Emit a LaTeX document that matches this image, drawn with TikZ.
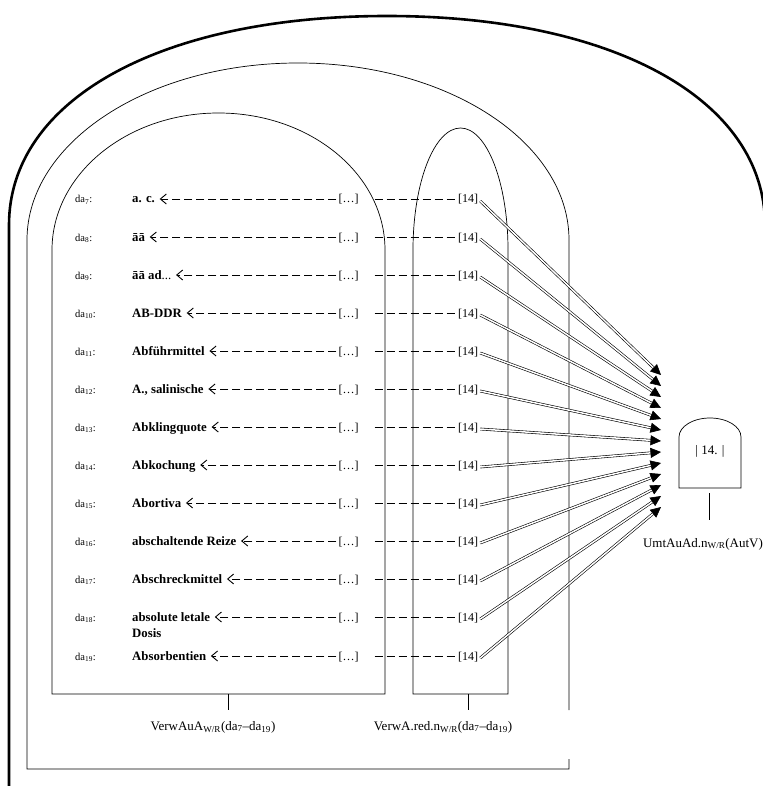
\documentclass[tikz,border=0pt]{standalone}
\usepackage{fontspec}
\setmainfont{Liberation Serif}
\usetikzlibrary{arrows.meta}
\begin{document}
\begin{tikzpicture}[x=1pt,y=-1pt,
  frame/.style={line width=0.7pt},
  rowtxt/.style={anchor=west, inner sep=2pt, text height=9pt, text depth=1pt},
  dalab/.style={rowtxt, font=\fontsize{10.5}{12}\selectfont},
  word/.style={rowtxt, font=\fontsize{12.8}{15}\selectfont\bfseries},
  ref/.style={rowtxt, anchor=center, font=\fontsize{12}{14}\selectfont},
  dashline/.style={line width=0.9pt, dash pattern=on 8pt off 4pt},
  back/.style={dashline, shorten >=2.5pt, -{Straight Barb[length=6pt,width=10pt]}},
  dbl/.style={double, double distance=1.5pt, line width=0.6pt, -{Triangle[length=10.5pt,width=10pt]}},
  lab/.style={font=\fontsize{13}{15}\selectfont, inner sep=0pt}
]
\useasboundingbox (0,0) rectangle (762,786);
% outer thick frame
\draw[line width=2.6pt] (9,800) -- (9,225) .. controls (9,100) and (160,16) .. (387,16) .. controls (614,16) and (765,100) .. (765,225) -- (765,800);
% middle frame
\draw[frame] (569,710) -- (569,240) arc[start angle=0, end angle=180, x radius=271pt, y radius=177pt] -- (27,769) -- (569,769) -- (569,759);
% inner box
\draw[frame] (52,250) arc[start angle=180, end angle=0, x radius=166.5pt, y radius=137pt] -- (385,694) -- (52,694) -- cycle;
% narrow box
\draw[frame] (413,250) arc[start angle=180, end angle=0, x radius=47.5pt, y radius=122pt] -- (508,694) -- (413,694) -- cycle;
% 14 box
\draw[frame] (679,437) arc[start angle=180, end angle=0, x radius=31pt, y radius=19pt] -- (741,488) -- (679,488) -- cycle;
\node[font=\fontsize{13}{15}\selectfont] (box14) at (710,451) {| 14. |};

% rows
\foreach \k/\w/\y in {7/{a. c.}/199, 8/{āā}/237, 9/{āā ad\textmd{...}}/275, 10/{AB-DDR}/313,
  11/{Abführmittel}/351, 12/{A., salinische}/389, 13/{Abklingquote}/427, 14/{Abkochung}/465,
  15/{Abortiva}/503, 16/{abschaltende Reize}/541, 17/{Abschreckmittel}/579,
  18/{absolute letale}/617, 19/{Absorbentien}/656}{
  \node[dalab] (da\k) at (73,\y) {da\textsubscript{\k}:};
  \node[word] (w\k) at (130,\y) {\w};
  \node[ref] (d\k) at (348.5,\y) {[…]};
  \node[ref] (r\k) at (468,\y) {[14]};
  \draw[back] (d\k.west) -- (w\k.east);
  \draw[dashline] ([xshift=14pt]d\k.east) -- (r\k.west);
}
\node[word] (w18b) at (130,633) {Dosis};

% converging double arrows
\foreach \k in {7,...,19}{
  \coordinate (t\k) at (661,{375+11*(\k-7)});
  \draw[dbl] ([yshift=-2pt]r\k.east) -- (t\k);
}

% labels
\coordinate (b1) at (228,694); \coordinate (b1e) at (228,710);
\draw[frame] (b1) -- (b1e);
\node[lab] (L1) at (213,727) {VerwAuA\textsubscript{W/R}(da\textsubscript{7}–da\textsubscript{19})};
\coordinate (b2) at (468,694); \coordinate (b2e) at (468,710);
\draw[frame] (b2) -- (b2e);
\node[lab] (L2) at (443,727) {VerwA.red.n\textsubscript{W/R}(da\textsubscript{7}–da\textsubscript{19})};
\coordinate (b3) at (709,493); \coordinate (b3e) at (709,520);
\draw[frame] (b3) -- (b3e);
\node[lab] (L3) at (703,544) {UmtAuAd.n\textsubscript{W/R}(AutV)};
\end{tikzpicture}
\end{document}
